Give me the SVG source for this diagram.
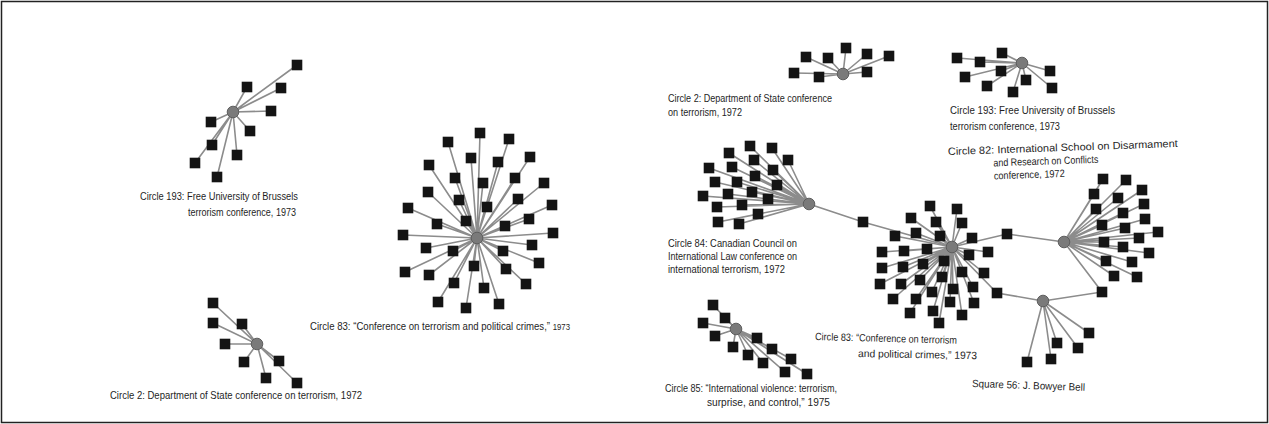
<svg xmlns="http://www.w3.org/2000/svg" xmlns:xlink="http://www.w3.org/1999/xlink" width="1269" height="424" viewBox="0 0 1269 424">
<style>
.e{stroke:#8c8c8c;stroke-width:1.6;fill:none}
.s{fill:#141414}
.h{fill:#7a7a7a;stroke:#5e5e5e;stroke-width:1}
text{font-family:"Liberation Sans",Arial,sans-serif;fill:#1e1e1e;font-size:10.5px}
</style>
<defs>
<rect id="sq" class="s" x="-5.3" y="-5.3" width="10.6" height="10.6"/>
</defs>
<rect x="1.5" y="1.5" width="1266" height="421" fill="#fff" stroke="#222" stroke-width="1.5"/>
<g id="connectors">
<path class="e" d="M233 112L297 65M233 112L281 88M233 112L247 87M233 112L271 111M233 112L211 122M233 112L250 131M233 112L212 145M233 112L195 163M233 112L237 155M233 112L217 177"/>
<path class="e" d="M477 238L480 133M477 238L509 139M477 238L448 142M477 238L471 158M477 238L498 162M477 238L530 157M477 238L429 165M477 238L455 178M477 238L483 183M477 238L515 178M477 238L544 183M477 238L428 192M477 238L459 200M477 238L487 207M477 238L518 199M477 238L552 205M477 238L408 208M477 238L437 224M477 238L466 221M477 238L529 219M477 238L505 226M477 238L403 235M477 238L553 233M477 238L426 248M477 238L453 251M477 238L532 245M477 238L503 251M477 238L405 272M477 238L474 266M477 238L506 269M477 238L539 263M477 238L429 275M477 238L454 283M477 238L484 288M477 238L526 284M477 238L438 302M477 238L466 308M477 238L499 304"/>
<path class="e" d="M257 344L213 303M257 344L213 323M257 344L242 324M257 344L225 344M257 344L244 362M257 344L279 361M257 344L266 378M257 344L297 383"/>
<path class="e" d="M843 74L794 73M843 74L806 57M843 74L819 77M843 74L828 58M843 74L846 48M843 74L867 54M843 74L889 56M843 74L867 72"/>
<path class="e" d="M1022 63L957 58M1022 63L980 62M1022 63L1002 53M1022 63L965 77M1022 63L1001 71M1022 63L987 86M1022 63L1026 80M1022 63L1013 92M1022 63L1050 71M1022 63L1052 88"/>
<path class="e" d="M809 204L750 146M809 204L772 148M809 204L729 153M809 204L788 160M809 204L754 160M809 204L709 168M809 204L732 167M809 204L773 170M809 204L715 182M809 204L737 182M809 204L755 176M809 204L777 185M809 204L703 196M809 204L728 194M809 204L752 192M809 204L768 199M809 204L717 207M809 204L742 205M809 204L758 214M809 204L718 222M809 204L739 224"/>
<path class="e" d="M952 247L930 206M952 247L957 209M952 247L911 218M952 247L936 222M952 247L962 223M952 247L895 236M952 247L916 233M952 247L940 236M952 247L972 238M952 247L882 252M952 247L904 251M952 247L927 249M952 247L969 255M952 247L988 252M952 247L882 268M952 247L903 267M952 247L923 264M952 247L944 261M952 247L962 272M952 247L984 273M952 247L880 284M952 247L901 284M952 247L920 280M952 247L942 277M952 247L973 287M952 247L893 299M952 247L916 299M952 247L932 292M952 247L953 289M952 247L974 303M952 247L950 302M952 247L910 313M952 247L933 311M952 247L962 315M952 247L939 323"/>
<path class="e" d="M1064 242L1103 179M1064 242L1126 180M1064 242L1094 194M1064 242L1118 198M1064 242L1142 190M1064 242L1096 209M1064 242L1123 213M1064 242L1144 204M1064 242L1102 225M1064 242L1125 228M1064 242L1145 219M1064 242L1158 232M1064 242L1104 242M1064 242L1139 238M1064 242L1123 247M1064 242L1149 253M1064 242L1106 261M1064 242L1132 262M1064 242L1114 276M1064 242L1137 277"/>
<path class="e" d="M1043 301L1089 333M1043 301L1078 348M1043 301L1057 343M1043 301L1051 359M1043 301L1027 362"/>
<path class="e" d="M736 329L713 305M736 329L725 318M736 329L703 323M736 329L715 336M736 329L733 347M736 329L757 338M736 329L748 355M736 329L772 349M736 329L763 363M736 329L791 359M736 329L785 372M736 329L807 374"/>
<path class="e" d="M809 204L863 222L952 247M952 247L1007 234L1064 242M952 247L997 293L1043 301M1043 301L1102 292L1064 242"/>
</g>
<g id="left-circle193">
<circle class="h" cx="233" cy="112" r="5.8"/>
<use href="#sq" x="297" y="65"/><use href="#sq" x="281" y="88"/><use href="#sq" x="247" y="87"/><use href="#sq" x="271" y="111"/><use href="#sq" x="211" y="122"/><use href="#sq" x="250" y="131"/><use href="#sq" x="212" y="145"/><use href="#sq" x="195" y="163"/><use href="#sq" x="237" y="155"/><use href="#sq" x="217" y="177"/>
<text x="140" y="200" textLength="158" lengthAdjust="spacingAndGlyphs">Circle 193: Free University of Brussels</text>
<text x="188" y="216" textLength="108" lengthAdjust="spacingAndGlyphs">terrorism conference, 1973</text>
</g>
<g id="left-circle83">
<circle class="h" cx="477" cy="238" r="5.8"/>
<use href="#sq" x="480" y="133"/><use href="#sq" x="509" y="139"/><use href="#sq" x="448" y="142"/><use href="#sq" x="471" y="158"/><use href="#sq" x="498" y="162"/><use href="#sq" x="530" y="157"/><use href="#sq" x="429" y="165"/><use href="#sq" x="455" y="178"/><use href="#sq" x="483" y="183"/><use href="#sq" x="515" y="178"/><use href="#sq" x="544" y="183"/><use href="#sq" x="428" y="192"/><use href="#sq" x="459" y="200"/><use href="#sq" x="487" y="207"/><use href="#sq" x="518" y="199"/><use href="#sq" x="552" y="205"/><use href="#sq" x="408" y="208"/><use href="#sq" x="437" y="224"/><use href="#sq" x="466" y="221"/><use href="#sq" x="529" y="219"/><use href="#sq" x="505" y="226"/><use href="#sq" x="403" y="235"/><use href="#sq" x="553" y="233"/><use href="#sq" x="426" y="248"/><use href="#sq" x="453" y="251"/><use href="#sq" x="532" y="245"/><use href="#sq" x="503" y="251"/><use href="#sq" x="405" y="272"/><use href="#sq" x="474" y="266"/><use href="#sq" x="506" y="269"/><use href="#sq" x="539" y="263"/><use href="#sq" x="429" y="275"/><use href="#sq" x="454" y="283"/><use href="#sq" x="484" y="288"/><use href="#sq" x="526" y="284"/><use href="#sq" x="438" y="302"/><use href="#sq" x="466" y="308"/><use href="#sq" x="499" y="304"/>
<text x="310" y="330" textLength="260" lengthAdjust="spacingAndGlyphs">Circle 83: “Conference on terrorism and political crimes,” <tspan font-size="8.5">1973</tspan></text>
</g>
<g id="left-circle2">
<circle class="h" cx="257" cy="344" r="5.8"/>
<use href="#sq" x="213" y="303"/><use href="#sq" x="213" y="323"/><use href="#sq" x="242" y="324"/><use href="#sq" x="225" y="344"/><use href="#sq" x="244" y="362"/><use href="#sq" x="279" y="361"/><use href="#sq" x="266" y="378"/><use href="#sq" x="297" y="383"/>
<text x="110" y="399" textLength="252" lengthAdjust="spacingAndGlyphs">Circle 2: Department of State conference on terrorism, 1972</text>
</g>
<g id="right-circle2">
<circle class="h" cx="843" cy="74" r="5.8"/>
<use href="#sq" x="794" y="73"/><use href="#sq" x="806" y="57"/><use href="#sq" x="819" y="77"/><use href="#sq" x="828" y="58"/><use href="#sq" x="846" y="48"/><use href="#sq" x="867" y="54"/><use href="#sq" x="889" y="56"/><use href="#sq" x="867" y="72"/>
<text x="668" y="102" textLength="164" lengthAdjust="spacingAndGlyphs">Circle 2: Department of State conference</text>
<text x="668" y="116" textLength="74" lengthAdjust="spacingAndGlyphs">on terrorism, 1972</text>
</g>
<g id="right-circle193">
<circle class="h" cx="1022" cy="63" r="5.8"/>
<use href="#sq" x="957" y="58"/><use href="#sq" x="980" y="62"/><use href="#sq" x="1002" y="53"/><use href="#sq" x="965" y="77"/><use href="#sq" x="1001" y="71"/><use href="#sq" x="987" y="86"/><use href="#sq" x="1026" y="80"/><use href="#sq" x="1013" y="92"/><use href="#sq" x="1050" y="71"/><use href="#sq" x="1052" y="88"/>
<text x="950" y="114" textLength="165" lengthAdjust="spacingAndGlyphs">Circle 193: Free University of Brussels</text>
<text x="950" y="130" textLength="110" lengthAdjust="spacingAndGlyphs">terrorism conference, 1973</text>
</g>
<g id="right-circle84">
<circle class="h" cx="809" cy="204" r="5.8"/>
<use href="#sq" x="750" y="146"/><use href="#sq" x="772" y="148"/><use href="#sq" x="729" y="153"/><use href="#sq" x="788" y="160"/><use href="#sq" x="754" y="160"/><use href="#sq" x="709" y="168"/><use href="#sq" x="732" y="167"/><use href="#sq" x="773" y="170"/><use href="#sq" x="715" y="182"/><use href="#sq" x="737" y="182"/><use href="#sq" x="755" y="176"/><use href="#sq" x="777" y="185"/><use href="#sq" x="703" y="196"/><use href="#sq" x="728" y="194"/><use href="#sq" x="752" y="192"/><use href="#sq" x="768" y="199"/><use href="#sq" x="717" y="207"/><use href="#sq" x="742" y="205"/><use href="#sq" x="758" y="214"/><use href="#sq" x="718" y="222"/><use href="#sq" x="739" y="224"/>
<text x="668" y="247" textLength="129" lengthAdjust="spacingAndGlyphs">Circle 84: Canadian Council on</text>
<text x="668" y="260" textLength="129" lengthAdjust="spacingAndGlyphs">International Law conference on</text>
<text x="668" y="273" textLength="117" lengthAdjust="spacingAndGlyphs">international terrorism, 1972</text>
</g>
<g id="link-square-84-83"><use href="#sq" x="863" y="222"/></g>
<g id="right-circle83">
<circle class="h" cx="952" cy="247" r="5.8"/>
<use href="#sq" x="930" y="206"/><use href="#sq" x="957" y="209"/><use href="#sq" x="911" y="218"/><use href="#sq" x="936" y="222"/><use href="#sq" x="962" y="223"/><use href="#sq" x="895" y="236"/><use href="#sq" x="916" y="233"/><use href="#sq" x="940" y="236"/><use href="#sq" x="972" y="238"/><use href="#sq" x="882" y="252"/><use href="#sq" x="904" y="251"/><use href="#sq" x="927" y="249"/><use href="#sq" x="969" y="255"/><use href="#sq" x="988" y="252"/><use href="#sq" x="882" y="268"/><use href="#sq" x="903" y="267"/><use href="#sq" x="923" y="264"/><use href="#sq" x="944" y="261"/><use href="#sq" x="962" y="272"/><use href="#sq" x="984" y="273"/><use href="#sq" x="880" y="284"/><use href="#sq" x="901" y="284"/><use href="#sq" x="920" y="280"/><use href="#sq" x="942" y="277"/><use href="#sq" x="973" y="287"/><use href="#sq" x="893" y="299"/><use href="#sq" x="916" y="299"/><use href="#sq" x="932" y="292"/><use href="#sq" x="953" y="289"/><use href="#sq" x="974" y="303"/><use href="#sq" x="950" y="302"/><use href="#sq" x="910" y="313"/><use href="#sq" x="933" y="311"/><use href="#sq" x="962" y="315"/><use href="#sq" x="939" y="323"/>
<text x="815" y="340" textLength="142" lengthAdjust="spacingAndGlyphs" transform="rotate(1.5 815 340)">Circle 83: “Conference on terrorism</text>
<text x="858" y="357" textLength="119" lengthAdjust="spacingAndGlyphs" transform="rotate(1 858 357)">and political crimes,” 1973</text>
</g>
<g id="link-square-83-82"><use href="#sq" x="1007" y="234"/></g>
<g id="link-square-83-56"><use href="#sq" x="997" y="293"/></g>
<g id="right-circle82">
<circle class="h" cx="1064" cy="242" r="5.8"/>
<use href="#sq" x="1103" y="179"/><use href="#sq" x="1126" y="180"/><use href="#sq" x="1094" y="194"/><use href="#sq" x="1118" y="198"/><use href="#sq" x="1142" y="190"/><use href="#sq" x="1096" y="209"/><use href="#sq" x="1123" y="213"/><use href="#sq" x="1144" y="204"/><use href="#sq" x="1102" y="225"/><use href="#sq" x="1125" y="228"/><use href="#sq" x="1145" y="219"/><use href="#sq" x="1158" y="232"/><use href="#sq" x="1104" y="242"/><use href="#sq" x="1139" y="238"/><use href="#sq" x="1123" y="247"/><use href="#sq" x="1149" y="253"/><use href="#sq" x="1106" y="261"/><use href="#sq" x="1132" y="262"/><use href="#sq" x="1114" y="276"/><use href="#sq" x="1137" y="277"/>
<g transform="rotate(-2 948 155)">
<text x="948" y="155" textLength="230" lengthAdjust="spacingAndGlyphs">Circle 82: International School on Disarmament</text>
<text x="993" y="168" textLength="105" lengthAdjust="spacingAndGlyphs">and Research on Conflicts</text>
<text x="993" y="181" textLength="71" lengthAdjust="spacingAndGlyphs">conference, 1972</text>
</g>
</g>
<g id="link-square-56-82"><use href="#sq" x="1102" y="292"/></g>
<g id="right-square56">
<circle class="h" cx="1043" cy="301" r="5.8"/>
<use href="#sq" x="1089" y="333"/><use href="#sq" x="1078" y="348"/><use href="#sq" x="1057" y="343"/><use href="#sq" x="1051" y="359"/><use href="#sq" x="1027" y="362"/>
<text x="972" y="387" textLength="113" lengthAdjust="spacingAndGlyphs" transform="rotate(2 972 387)">Square 56: J. Bowyer Bell</text>
</g>
<g id="right-circle85">
<circle class="h" cx="736" cy="329" r="5.8"/>
<use href="#sq" x="713" y="305"/><use href="#sq" x="725" y="318"/><use href="#sq" x="703" y="323"/><use href="#sq" x="715" y="336"/><use href="#sq" x="733" y="347"/><use href="#sq" x="757" y="338"/><use href="#sq" x="748" y="355"/><use href="#sq" x="772" y="349"/><use href="#sq" x="763" y="363"/><use href="#sq" x="791" y="359"/><use href="#sq" x="785" y="372"/><use href="#sq" x="807" y="374"/>
<text x="665" y="392" textLength="172" lengthAdjust="spacingAndGlyphs">Circle 85: “International violence: terrorism,</text>
<text x="707" y="406" textLength="123" lengthAdjust="spacingAndGlyphs">surprise, and control,” 1975</text>
</g>
</svg>
